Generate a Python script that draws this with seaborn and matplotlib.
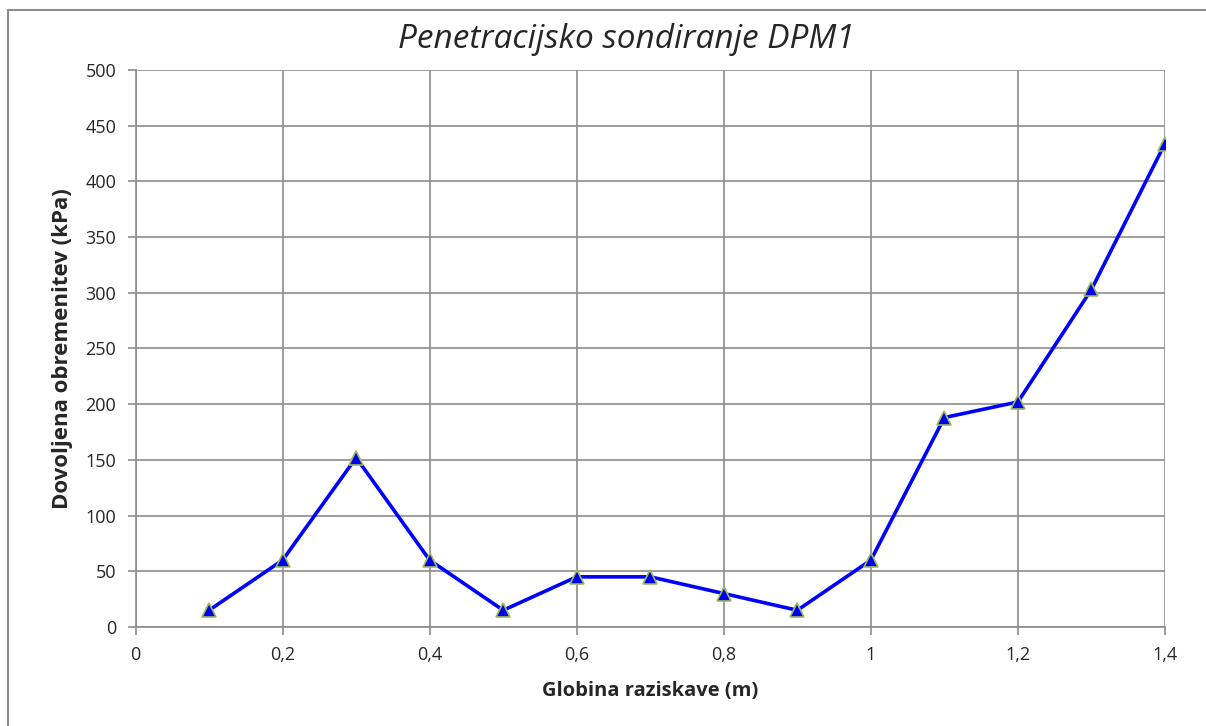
import pandas as pd
import seaborn as sns
import matplotlib.pyplot as plt
from matplotlib.ticker import FuncFormatter, MultipleLocator
from matplotlib.patches import Rectangle

# Data
depth = [0.1, 0.2, 0.3, 0.4, 0.5, 0.6, 0.7, 0.8, 0.9, 1.0, 1.1, 1.2, 1.3, 1.4]
load = [15, 60, 152, 60, 15, 45, 45, 30, 15, 60, 188, 202, 303, 434]

df = pd.DataFrame({'Globina': depth, 'Obremenitev': load})

sns.set_style("white")
plt.rcParams['font.family'] = ['Open Sans', 'DejaVu Sans']

fig = plt.figure(figsize=(12.06, 7.26), dpi=100)
ax = fig.add_axes([0.1124, 0.1364, 0.8536, 0.7672])

sns.lineplot(data=df, x='Globina', y='Obremenitev', ax=ax,
             color='#0000ff', linewidth=2.6, marker='^', markersize=10,
             markerfacecolor='#0000ee', markeredgecolor='#9bbb59',
             markeredgewidth=1.2, zorder=3)

ax.set_xlim(0, 1.4)
ax.set_ylim(0, 500)
ax.xaxis.set_major_locator(MultipleLocator(0.2))
ax.yaxis.set_major_locator(MultipleLocator(50))


def comma_fmt(v, pos):
    s = f"{v:.1f}".rstrip('0').rstrip('.')
    return s.replace('.', ',')


ax.xaxis.set_major_formatter(FuncFormatter(comma_fmt))

grid_col = '#8c8c8c'
ax.grid(True, color=grid_col, linewidth=1.2)
for side in ['top', 'right']:
    ax.spines[side].set_visible(False)
for side in ['left', 'bottom']:
    ax.spines[side].set_color(grid_col)
    ax.spines[side].set_linewidth(1.2)

ax.tick_params(axis='both', which='major', direction='out', length=6,
               width=1.2, color=grid_col, labelsize=13, pad=8,
               bottom=True, left=True)

ax.set_xlabel('Globina raziskave (m)', fontsize=14.5, fontweight='bold', labelpad=12)
ax.set_ylabel('Dovoljena obremenitev (kPa)', fontsize=16, fontweight='bold', labelpad=9)
fig.text(626 / 1206, 1 - 39 / 726, 'Penetracijsko sondiranje DPM1', fontsize=24,
         fontstyle='italic', ha='center', va='center')

# Outer chart border
fig.patches.append(Rectangle((8 / 1206, -0.1), 1.2, 1.1 - 10 / 726, transform=fig.transFigure,
                             fill=False, edgecolor='#8c8c8c', linewidth=1.5))

plt.savefig('out.png', dpi=100)
